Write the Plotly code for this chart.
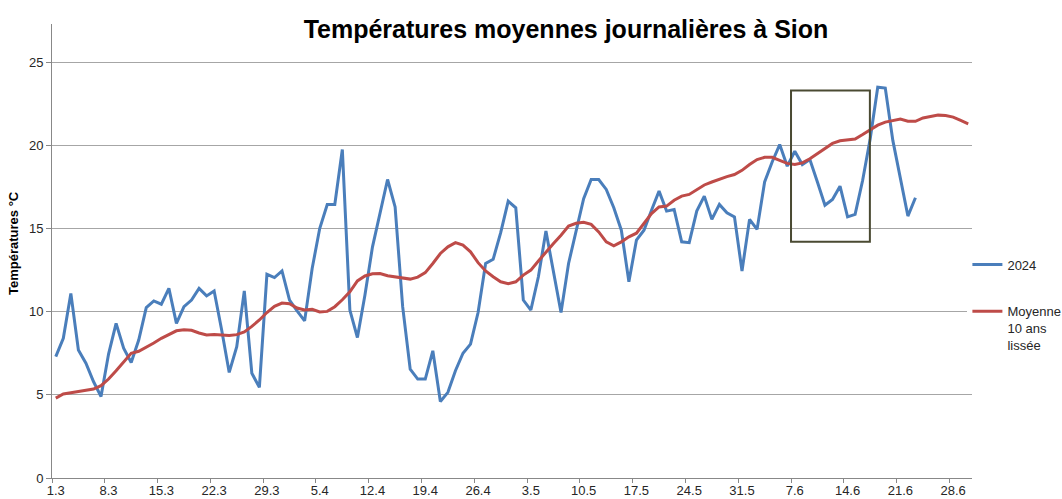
import plotly.graph_objects as go
import pandas as pd

# ---- data ----
start_date = "2024-03-01"
# Daily mean temperature 2024 (1.3 -> 23.6)
temp_2024 = [7.3, 8.4, 11.1, 7.7, 6.9, 5.8, 4.9, 7.45, 9.3, 7.8,
             6.95, 8.3, 10.25, 10.65, 10.45, 11.4, 9.3, 10.3, 10.7, 11.4,
             10.95, 11.25, 8.9, 6.35, 7.9, 11.25, 6.3, 5.45, 12.25, 12.05,
             12.45, 10.7, 10.05, 9.45, 12.6, 15.0, 16.45, 16.45, 19.75, 10.1,
             8.45, 11.0, 13.9, 16.0, 17.95, 16.3, 10.3, 6.55, 5.95, 5.95,
             7.65, 4.6, 5.15, 6.45, 7.5, 8.05, 9.95, 12.9, 13.15, 14.75,
             16.65, 16.25, 10.7, 10.1, 12.1, 14.85, 12.5, 9.95, 12.9, 14.9,
             16.8, 17.95, 17.95, 17.35, 16.25, 14.9, 11.8, 14.3, 14.9, 16.1,
             17.25, 16.05, 16.15, 14.2, 14.15, 16.05, 16.95, 15.55, 16.45, 15.95,
             15.7, 12.45, 15.55, 14.95, 17.8, 19.0, 20.05, 18.75, 19.65, 18.85,
             19.15, 17.8, 16.4, 16.75, 17.55, 15.7, 15.85, 17.9, 20.4, 23.5,
             23.45, 20.3, 18.0, 15.75, 16.85]
# Smoothed 10-year mean (1.3 -> 30.6)
mean_10y = [4.8, 5.05, 5.12, 5.2, 5.27, 5.35, 5.55, 5.95, 6.45, 7.0,
            7.5, 7.62, 7.85, 8.12, 8.4, 8.62, 8.85, 8.92, 8.88, 8.72,
            8.6, 8.63, 8.58, 8.57, 8.62, 8.78, 9.12, 9.5, 9.95, 10.32,
            10.52, 10.48, 10.22, 10.1, 10.14, 9.98, 10.02, 10.3, 10.72, 11.2,
            11.85, 12.15, 12.28, 12.3, 12.16, 12.08, 12.02, 11.96, 12.08, 12.35,
            12.9, 13.5, 13.9, 14.15, 14.0, 13.6, 12.95, 12.45, 12.1, 11.8,
            11.68, 11.8, 12.2, 12.5, 13.05, 13.6, 14.1, 14.6, 15.15, 15.32,
            15.38, 15.25, 14.8, 14.2, 13.96, 14.2, 14.5, 14.72, 15.3, 15.9,
            16.3, 16.35, 16.7, 16.95, 17.05, 17.35, 17.62, 17.8, 17.98, 18.12,
            18.25, 18.5, 18.85, 19.15, 19.28, 19.28, 19.1, 18.92, 18.85, 18.95,
            19.2, 19.5, 19.85, 20.12, 20.28, 20.35, 20.38, 20.65, 20.95, 21.22,
            21.4, 21.5, 21.58, 21.45, 21.45, 21.65, 21.75, 21.82, 21.8, 21.7,
            21.5, 21.3]
tick_dates = ["2024-03-01", "2024-03-08", "2024-03-15", "2024-03-22", "2024-03-29",
              "2024-04-05", "2024-04-12", "2024-04-19", "2024-04-26", "2024-05-03",
              "2024-05-10", "2024-05-17", "2024-05-24", "2024-05-31", "2024-06-07",
              "2024-06-14", "2024-06-21", "2024-06-28"]
tick_labels = ["1.3", "8.3", "15.3", "22.3", "29.3", "5.4", "12.4", "19.4", "26.4",
               "3.5", "10.5", "17.5", "24.5", "31.5", "7.6", "14.6", "21.6", "28.6"]
# highlighted period (box)
box_x = ["2024-06-06 12:00", "2024-06-16 23:00"]
box_y = [14.2, 23.3]

dates_2024 = pd.date_range(start_date, periods=len(temp_2024), freq="D")
dates_mean = pd.date_range(start_date, periods=len(mean_10y), freq="D")

FONT = "Liberation Sans, Arial, sans-serif"
GRID = "#a6a6a6"
TXT = "#262626"

fig = go.Figure()
fig.add_trace(go.Scatter(x=dates_2024, y=temp_2024, mode="lines", name="2024",
                         line=dict(color="#4a7ebb", width=3), legend="legend"))
fig.add_trace(go.Scatter(x=dates_mean, y=mean_10y, mode="lines",
                         name="Moyenne<br>10 ans<br>lissée",
                         line=dict(color="#be4b48", width=3), legend="legend2"))

fig.add_shape(type="rect", xref="x", yref="y",
              x0=box_x[0], x1=box_x[1], y0=box_y[0], y1=box_y[1],
              line=dict(color="#4a4a32", width=2), fillcolor="rgba(0,0,0,0)")

fig.update_layout(
    width=1062, height=499,
    margin=dict(l=52, r=90, t=24, b=21, autoexpand=False),
    paper_bgcolor="white", plot_bgcolor="white",
    font=dict(family=FONT, size=13, color=TXT),
    title=dict(text="<b>Températures moyennes journalières à Sion</b>",
               font=dict(family=FONT, size=25, color="black"),
               x=566 / 1062, xref="container", xanchor="center",
               y=1 - 29 / 499, yref="container", yanchor="middle"),
    showlegend=True,
    legend=dict(x=0.995, y=0.47, xanchor="left", yanchor="middle",
                font=dict(family=FONT, size=13, color=TXT),
                itemwidth=30, bgcolor="rgba(0,0,0,0)"),
    legend2=dict(x=0.995, y=0.40, xanchor="left", yanchor="top", valign="top",
                 font=dict(family=FONT, size=13, color=TXT),
                 itemwidth=30, bgcolor="white"),
    xaxis=dict(type="date",
               range=["2024-02-29 12:00", "2024-06-30 12:00"],
               tickmode="array", tickvals=tick_dates, ticktext=tick_labels,
               ticks="", showgrid=False, showline=True, linecolor="#888",
               linewidth=1, zeroline=False, automargin=False,
               tickfont=dict(family=FONT, size=13, color=TXT),
               minor=dict(tickmode="linear", tick0="2024-02-29 12:00",
                          dtick=7 * 86400000, ticks="outside", ticklen=4,
                          tickcolor="#888", showgrid=False)),
    yaxis=dict(range=[0, 27.3], tickmode="array", tickvals=[0, 5, 10, 15, 20, 25],
               ticks="outside", ticklen=5, tickcolor="#888",
               showgrid=True, gridcolor=GRID, gridwidth=1,
               showline=True, linecolor="#888", linewidth=1, zeroline=False,
               automargin=False,
               tickfont=dict(family=FONT, size=13, color=TXT)),
)

fig.add_annotation(text="<b>Températures °C</b>", xref="paper", yref="paper",
                   x=(13 - 52) / 920, y=(478 - 243) / 454, textangle=-90,
                   showarrow=False, xanchor="center", yanchor="middle",
                   font=dict(family=FONT, size=13, color="black"))

fig.write_html("out.html", config={"displayModeBar": False},
               post_script="document.body.style.margin='0';")
